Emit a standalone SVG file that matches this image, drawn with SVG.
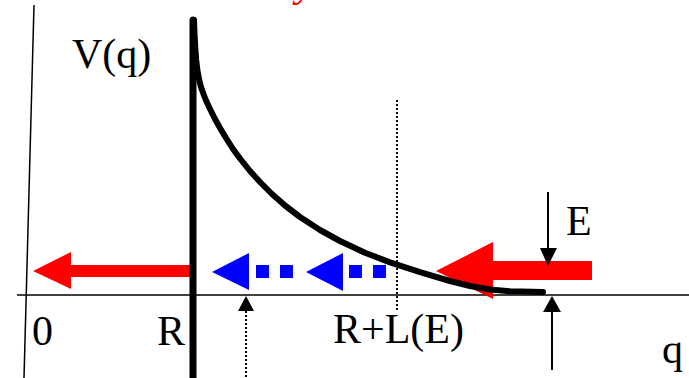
<svg xmlns="http://www.w3.org/2000/svg" width="689" height="378" viewBox="0 0 689 378">
<style>
.axis{stroke:#000;stroke-width:1.5;fill:none}
.dot{stroke:#000;stroke-width:2;stroke-dasharray:2,2;fill:none}
.lbl{font-size:42px;fill:#000}
.red{fill:#ff0000}
.blue{fill:#0000ff}
.blk{fill:#000}
</style>
<rect width="689" height="378" fill="#fff"/>
<text x="296" y="-4" font-family="Liberation Serif, Times New Roman, DejaVu Serif, serif" font-size="42" font-style="italic" fill="#ff0000">y</text>
<g id="axes">
<line class="axis" x1="34" y1="5" x2="24" y2="378"/>
<line class="axis" x1="17" y1="295" x2="689" y2="295"/>
</g>
<g id="arrows-red">
<polygon class="red" points="33,271 71,252 71,265 190,265 190,277 71,277 71,289"/>
<polygon class="red" points="436,271 493,242 493,261 592,261 592,280 493,280 493,299"/>
</g>
<g id="arrows-blue">
<polygon class="blue" points="212,272 249,253 249,290"/>
<rect class="blue" x="256" y="265" width="13" height="13"/>
<rect class="blue" x="280" y="265" width="13" height="13"/>
<polygon class="blue" points="306,272 343,253 343,291"/>
<rect class="blue" x="349" y="265" width="13" height="13"/>
<rect class="blue" x="373" y="265" width="13" height="13"/>
</g>
<g id="wall">
<line x1="193" y1="20" x2="193" y2="385" stroke="#000" stroke-width="7" stroke-linecap="round"/>
</g>
<g id="potential">
<polyline points="194,20 194.6,35 195.3,48 196.2,60 197.4,70 199,79 201,87 203.5,94 206,100.5 210,109 215,119 220,128 226,138 233,149 240,158.5 250,171 260,182 272,194 285,205.5 300,217 320,230 340,241 365,252.7 390,262.4 420,272.2 450,281 470,286 490,289.5 510,291.3 543,292" fill="none" stroke="#000" stroke-width="6" stroke-linecap="round" stroke-linejoin="round"/>
</g>
<g id="connectors">
<line class="dot" x1="397" y1="100" x2="397" y2="312"/>
<line class="dot" x1="246" y1="311" x2="246" y2="378"/>
<polygon class="blk" points="246,296 238,311 254,311"/>
<line x1="548" y1="192" x2="548" y2="250" stroke="#000" stroke-width="2"/>
<polygon class="blk" points="548,266 540,248 557,248"/>
<line x1="552" y1="310" x2="552" y2="370" stroke="#000" stroke-width="2"/>
<polygon class="blk" points="552,296 543,312 561,312"/>
</g>
<g id="labels" font-family="Liberation Serif, Times New Roman, DejaVu Serif, serif">
<text x="72" y="68" class="lbl">V(q)</text>
<text x="32" y="345" class="lbl">0</text>
<text x="157" y="345" class="lbl">R</text>
<text x="333" y="343" class="lbl">R+L(E)</text>
<text x="566" y="235" class="lbl">E</text>
<text x="662" y="363" class="lbl">q</text>
</g>
</svg>
